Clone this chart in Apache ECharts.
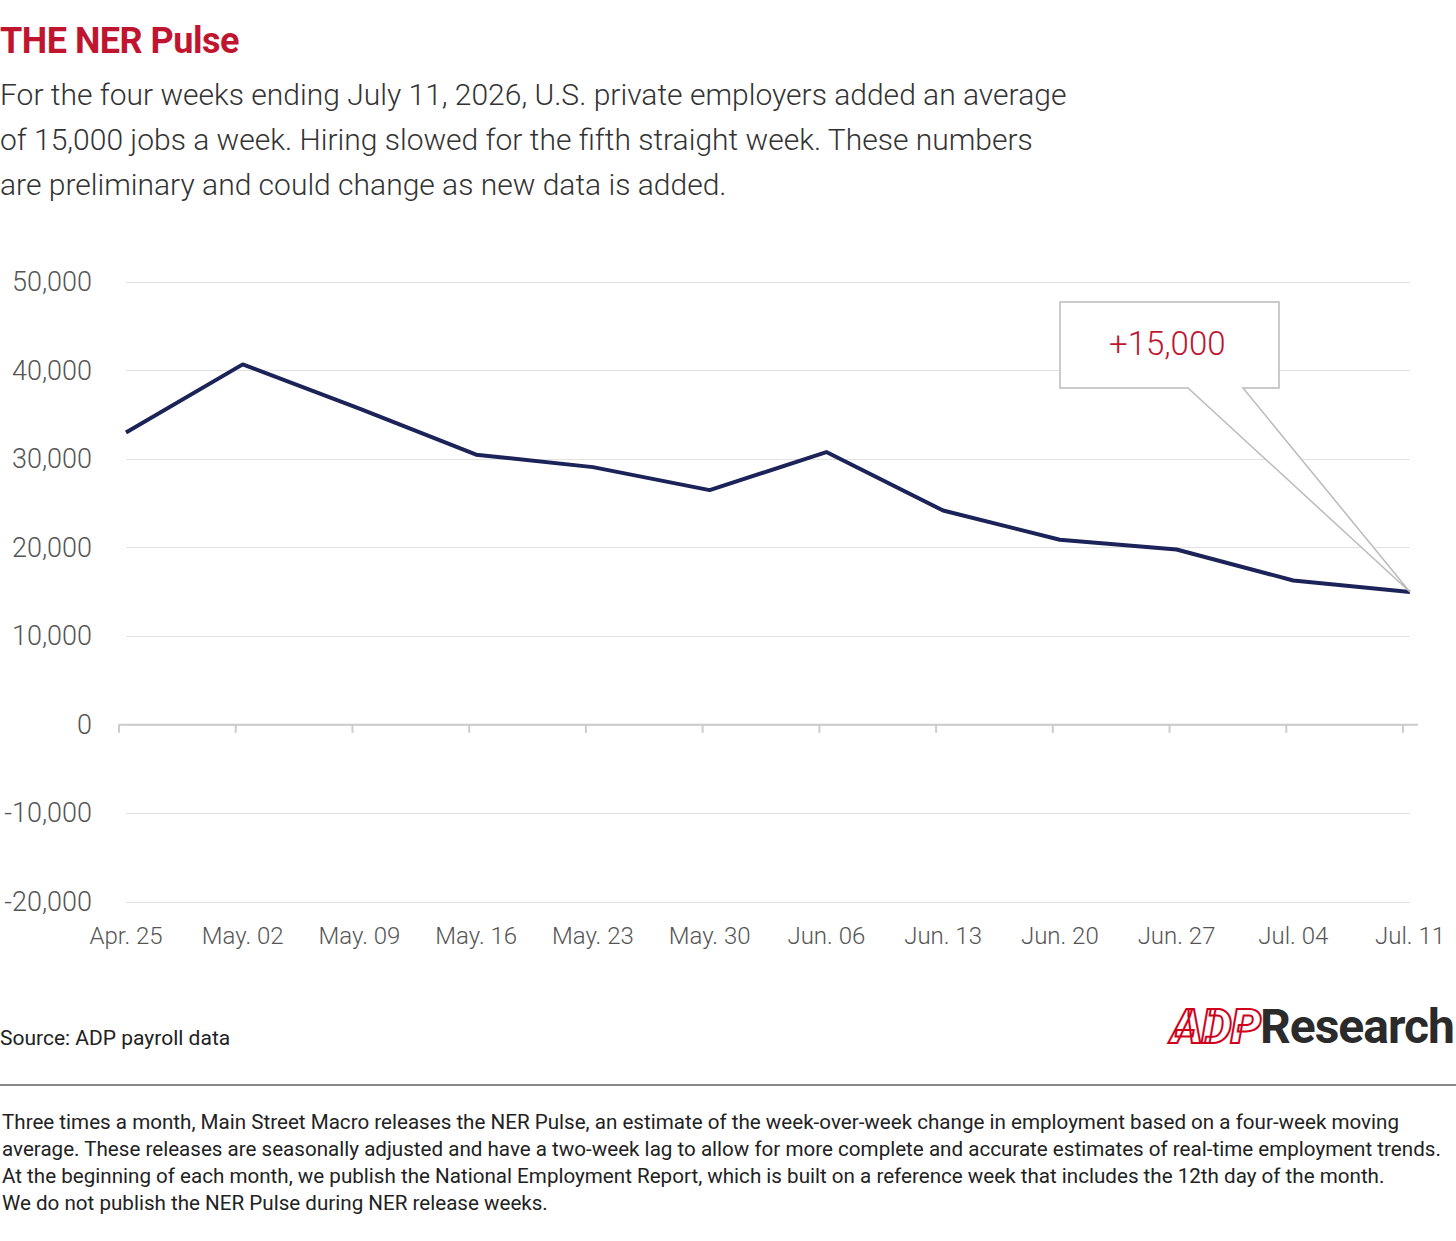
<!DOCTYPE html>
<html><head><meta charset="utf-8">
<script src="https://cdn.jsdelivr.net/npm/echarts@6/dist/echarts.min.js"></script>
<style>
body{margin:0;background:#fff;font-family:Roboto,"Open Sans",sans-serif;}
#wrap{position:relative;width:1456px;height:1241px;overflow:hidden;}
#title{position:absolute;left:0;top:20px;font-size:36px;font-weight:700;color:#c0152f;letter-spacing:-0.5px;}
#sub{position:absolute;left:0;top:72px;font-size:30px;line-height:45px;color:#333;font-weight:300;width:1150px;}
#chart{position:absolute;left:0;top:240px;width:1456px;height:730px;}
#src{position:absolute;left:0;top:1026px;font-size:21px;color:#222;}
#logo{position:absolute;right:2px;top:998px;font-size:48px;font-weight:700;color:#2b2b2b;letter-spacing:-1px;}
#logo span{color:#fff;-webkit-text-stroke:2px #d0021b;font-style:italic;font-weight:900;}
#rule{position:absolute;left:0;top:1084px;width:1456px;border-top:2px solid #888;}
#foot{position:absolute;left:2px;top:1109px;font-size:20.6px;line-height:27px;color:#222;width:1456px;white-space:nowrap;}
</style></head><body>
<div id="wrap">
<div id="title">THE NER Pulse</div>
<div id="sub">For the four weeks ending July 11, 2026, U.S. private employers added an average<br>of 15,000 jobs a week. Hiring slowed for the fifth straight week. These numbers<br>are preliminary and could change as new data is added.</div>
<div id="chart"></div>
<div id="src">Source: ADP payroll data</div>
<div id="logo"><span>ADP</span>Research</div>
<div id="rule"></div>
<div id="foot">Three times a month, Main Street Macro releases the NER Pulse, an estimate of the week-over-week change in employment based on a four-week moving<br>average. These releases are seasonally adjusted and have a two-week lag to allow for more complete and accurate estimates of real-time employment trends.<br>At the beginning of each month, we publish the National Employment Report, which is built on a reference week that includes the 12th day of the month.<br>We do not publish the NER Pulse during NER release weeks.</div>
</div>
<script>
var weeks = ['Apr. 25','May. 02','May. 09','May. 16','May. 23','May. 30','Jun. 06','Jun. 13','Jun. 20','Jun. 27','Jul. 04','Jul. 11'];
var jobs = [33000, 40700, 35700, 30500, 29100, 26500, 30800, 24200, 20900, 19800, 16300, 15000];
var calloutText = '+15,000';

var chart = echarts.init(document.getElementById('chart'), null, { renderer: 'svg' });
chart.setOption({
  animation: false,
  grid: { left: 126, right: 46, top: 42, bottom: 68 },
  xAxis: {
    type: 'category', data: weeks, boundaryGap: false,
    axisLine: { show: false },
    axisTick: { show: false },
    axisLabel: { color: '#555', fontSize: 24, fontFamily: 'Roboto', fontWeight: 300, margin: 22 }
  },
  yAxis: {
    type: 'value', min: -20000, max: 50000, interval: 10000,
    axisLabel: { color: '#555', fontSize: 27, fontFamily: 'Roboto', fontWeight: 300, margin: 34,
      formatter: function (v) { return v.toLocaleString('en-US'); } },
    splitLine: { lineStyle: { color: '#e2e2e2', width: 1 } }
  },
  series: [{
    type: 'line', data: jobs, symbol: 'none',
    lineStyle: { color: '#1b2358', width: 4 }
  }]
});

var p = chart.convertToPixel({ xAxisIndex: 0, yAxisIndex: 0 }, [weeks.length - 1, jobs[jobs.length - 1]]);
var z0 = chart.convertToPixel({ xAxisIndex: 0, yAxisIndex: 0 }, [0, 0]);
var bx = 1060, by = 62, bw = 219, bh = 86;
var g = [];
g.push({ type: 'line', shape: { x1: 119, y1: z0[1], x2: 1418, y2: z0[1] }, style: { stroke: '#ccc', lineWidth: 2 } });
for (var i = 0; i < weeks.length; i++) {
  var t = chart.convertToPixel({ xAxisIndex: 0, yAxisIndex: 0 }, [i, 0]);
  g.push({ type: 'line', shape: { x1: t[0] - 7, y1: t[1], x2: t[0] - 7, y2: t[1] + 8 }, style: { stroke: '#ccc', lineWidth: 2 } });
}
g.push({
  type: 'polygon', z: 10,
  shape: { points: [[bx, by], [bx + bw, by], [bx + bw, by + bh], [bx + 183, by + bh], [p[0], p[1]], [bx + 128, by + bh], [bx, by + bh]] },
  style: { fill: '#fff', stroke: '#bbb', lineWidth: 1.5 }
});
g.push({
  type: 'text', z: 11, left: bx + 49, top: by + 25,
  style: { text: calloutText, fill: '#c0152f', fontSize: 33, fontFamily: 'Roboto', fontWeight: 300 }
});
chart.setOption({ graphic: g });
</script>
</body></html>
